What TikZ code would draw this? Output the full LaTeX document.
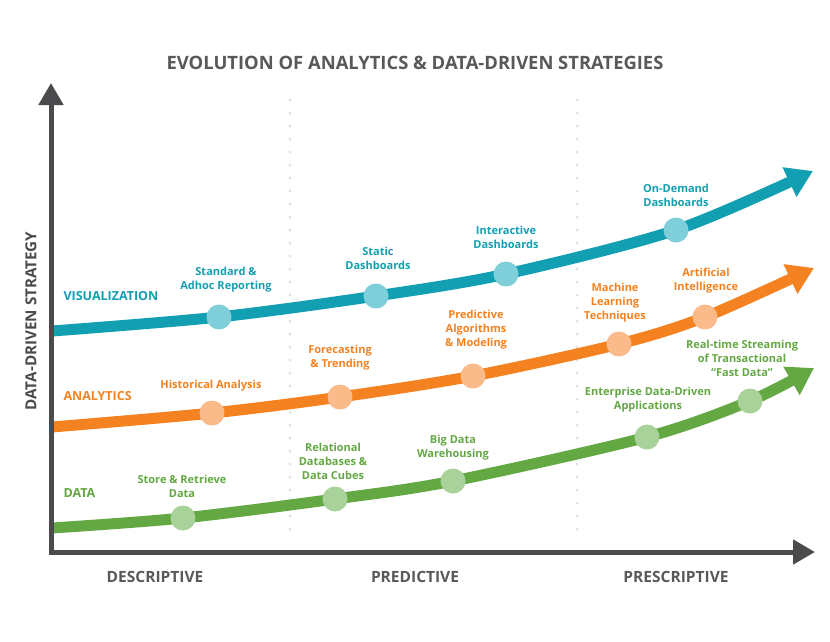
\documentclass[tikz,border=0pt]{standalone}
\usepackage{fontspec}
\setmainfont{Open Sans}
\usepackage{xcolor}
\usetikzlibrary{arrows.meta}
\definecolor{axisgray}{HTML}{4B4B4E}
\definecolor{titlegray}{HTML}{58595B}
\definecolor{vizteal}{HTML}{139FB2}
\definecolor{vizdot}{HTML}{7FCFDA}
\definecolor{anaorange}{HTML}{F58220}
\definecolor{anadot}{HTML}{FABA8A}
\definecolor{datgreen}{HTML}{64A844}
\definecolor{datdot}{HTML}{A9D19A}

\begin{document}
\begin{tikzpicture}[x=1pt,y=-1pt,
    lbl/.style={font=\bfseries\fontsize{11}{14}\selectfont, align=center},
    series/.style={font=\bfseries\fontsize{12.5}{14}\selectfont, anchor=west},
    heading/.style={font=\bfseries\fontsize{15.5}{18}\selectfont, text=titlegray},
    dot/.style={circle, minimum size=25pt, inner sep=0pt, fill=#1},
    curve/.style={line width=11pt, #1, -{Triangle[length=26pt,width=31pt]}},
    axis/.style={line width=5pt, axisgray, line cap=rect, -{Triangle[length=22pt,width=24pt]}}]
    \useasboundingbox[fill=white] (0,0) rectangle (830,641);

    % phase separators
    \foreach \x in {290,577} \draw[gray!25, line width=3pt, line cap=round, dash pattern=on 0pt off 13pt] (\x,100) -- (\x,540);

    % curves
    \foreach \i/\x/\y in {0/52/331, 1/219/317, 2/376/296, 3/506/274, 4/676/230, 5/813/171} \coordinate (v\i) at (\x,\y);
    \foreach \i/\x/\y in {0/52/427, 1/212/413, 2/340/397, 3/473/376, 4/619/344, 5/705/317, 6/814/268} \coordinate (a\i) at (\x,\y);
    \foreach \i/\x/\y in {0/52/528, 1/183/518, 2/335/499, 3/453/481, 4/647/437, 5/750/401, 6/814/368} \coordinate (d\i) at (\x,\y);
    \draw[curve=vizteal] plot[smooth] coordinates {(v0) (v1) (v2) (v3) (v4) (v5)};
    \draw[curve=anaorange] plot[smooth] coordinates {(a0) (a1) (a2) (a3) (a4) (a5) (a6)};
    \draw[curve=datgreen] plot[smooth] coordinates {(d0) (d1) (d2) (d3) (d4) (d5) (d6)};
    \foreach \i in {1,...,4} \node[dot=vizdot] (vdot\i) at (v\i) {};
    \foreach \i in {1,...,5} \node[dot=anadot] (adot\i) at (a\i) {};
    \foreach \i in {1,...,5} \node[dot=datdot] (ddot\i) at (d\i) {};

    % axes
    \coordinate (origin) at (51,552);
    \coordinate (ytop) at (51,83);
    \coordinate (xend) at (815,552);
    \draw[axis] (origin) -- (ytop);
    \draw[axis] (origin) -- (xend);

    % titles
    \node[heading, font=\bfseries\fontsize{18.4}{20}\selectfont] (title) at (415,63) {EVOLUTION OF ANALYTICS \& DATA-DRIVEN STRATEGIES};
    \node[heading, rotate=90, font=\bfseries\fontsize{15.2}{16}\selectfont, text=axisgray] (ylabel) at (31,321) {DATA-DRIVEN STRATEGY};
    \node[heading] (desc) at (155,577) {DESCRIPTIVE};
    \node[heading] (pred) at (415,577) {PREDICTIVE};
    \node[heading] (presc) at (676,577) {PRESCRIPTIVE};

    % visualization
    \node[series, text=vizteal] (vizname) at (60,296) {VISUALIZATION};
    \node[lbl, text=vizteal] (vlbl1) at (226,280) {Standard \&\\Adhoc Reporting};
    \node[lbl, text=vizteal] (vlbl2) at (378,258) {Static\\Dashboards};
    \node[lbl, text=vizteal] (vlbl3) at (506,237) {Interactive\\Dashboards};
    \node[lbl, text=vizteal] (vlbl4) at (676,195) {On-Demand\\Dashboards};

    % analytics
    \node[series, text=anaorange] (ananame) at (60,396) {ANALYTICS};
    \node[lbl, text=anaorange] (albl1) at (211,386) {Historical Analysis};
    \node[lbl, text=anaorange] (albl2) at (340,358) {Forecasting\\\& Trending};
    \node[lbl, text=anaorange] (albl3) at (476,330) {Predictive\\Algorithms\\\& Modeling};
    \node[lbl, text=anaorange] (albl4) at (615,303) {Machine\\Learning\\Techniques};
    \node[lbl, text=anaorange] (albl5) at (706,281) {Artificial\\Intelligence};

    % data
    \node[series, text=datgreen] (datname) at (60,493) {DATA};
    \node[lbl, text=datgreen] (dlbl1) at (182,486) {Store \& Retrieve\\Data};
    \node[lbl, text=datgreen] (dlbl2) at (333,461) {Relational\\Databases \&\\Data Cubes};
    \node[lbl, text=datgreen] (dlbl3) at (453,448) {Big Data\\Warehousing};
    \node[lbl, text=datgreen] (dlbl4) at (648,400) {Enterprise Data-Driven\\Applications};
    \node[lbl, text=datgreen] (dlbl5) at (742,358) {Real-time Streaming\\of Transactional\\“Fast Data”};
\end{tikzpicture}
\end{document}
